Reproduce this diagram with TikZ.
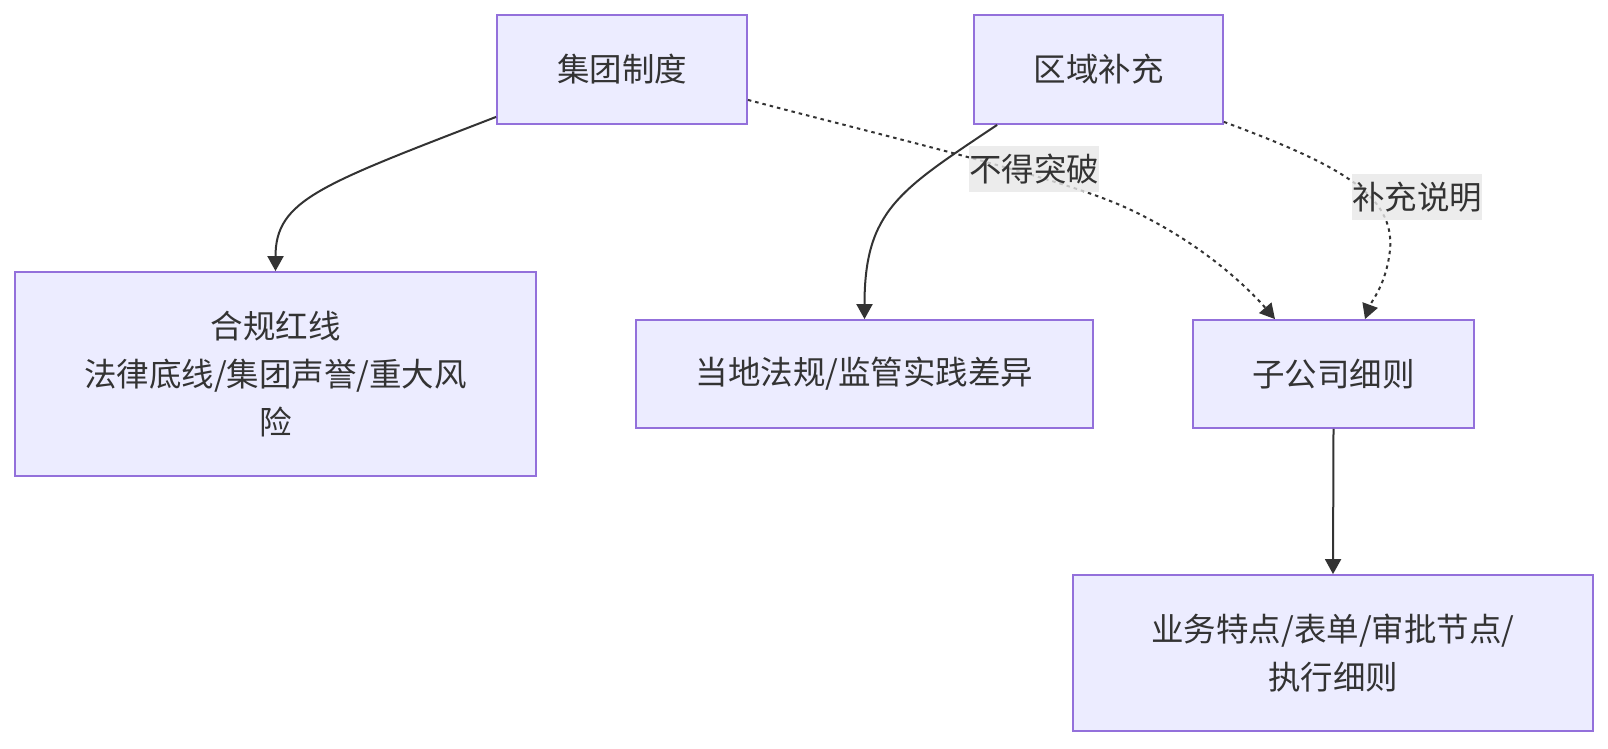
\documentclass[tikz,border=0pt]{standalone}
\usepackage{fontspec}
\setmainfont{Noto Sans CJK SC}
\usetikzlibrary{arrows.meta}
\definecolor{nodefill}{HTML}{ECECFF}
\definecolor{nodeborder}{HTML}{9370DB}
\definecolor{edgecol}{HTML}{333333}
\definecolor{labelbg}{HTML}{E8E8E8}
\begin{document}
\begin{tikzpicture}[x=1pt,y=-1pt,
  box/.style={draw=nodeborder, fill=nodefill, line width=1.8pt, align=center,
    font=\fontsize{32.5}{48}\selectfont, text=edgecol, inner sep=0pt},
  edge/.style={draw=edgecol, line width=2pt, -{Triangle[length=15pt,width=16pt]}},
  dashedge/.style={edge, dash pattern=on 3.5pt off 4pt},
  lbl/.style={fill=labelbg, fill opacity=0.8, text opacity=1, text=edgecol,
    font=\fontsize{32.5}{48}\selectfont, inner xsep=0pt, inner ysep=0pt, minimum height=46pt}]
\useasboundingbox (0,0) rectangle (1608,748);
\fill[white] (0,0) rectangle (1608,748);

\node[box, minimum width=250pt, minimum height=109pt] (g) at (622,69.5) {集团制度};
\node[box, minimum width=249pt, minimum height=109pt] (r) at (1098.5,69.5) {区域补充};
\node[box, minimum width=521pt, minimum height=204pt] (h) at (275.5,374) {合规红线\\法律底线/集团声誉/重大风\\险};
\node[box, minimum width=457pt, minimum height=108pt] (d) at (864.5,374) {当地法规/监管实践差异};
\node[box, minimum width=281pt, minimum height=108pt] (s) at (1333.5,374) {子公司细则};
\node[box, minimum width=520pt, minimum height=156pt] (b) at (1333,653) {业务特点/表单/审批节点/\\执行细则};

% solid edges
\draw[edge] ([yshift=8pt]g.south west) .. controls (320,185) and (275.5,200) .. (h.north);
\draw[edge] ([xshift=24pt]r.south west) .. controls (900,190) and (864.5,210) .. (d.north);
\draw[edge] (s.south) -- (b.north);

% dashed edges
\draw[dashedge] ([yshift=25pt]g.south east) .. controls (900,140) and (1050,175) .. (1120,205)
  .. controls (1200,240) and (1250,290) .. ([xshift=-58.5pt]s.north);
\draw[dashedge] ([yshift=3pt]r.south east) .. controls (1340,165) and (1395,195) .. (1390,250)
  .. controls (1386,285) and (1372,300) .. ([xshift=31.5pt]s.north);

% edge labels
\node[lbl] (l1) at (1034,169) {不得突破};
\node[lbl] (l2) at (1417,197) {补充说明};
\end{tikzpicture}
\end{document}
